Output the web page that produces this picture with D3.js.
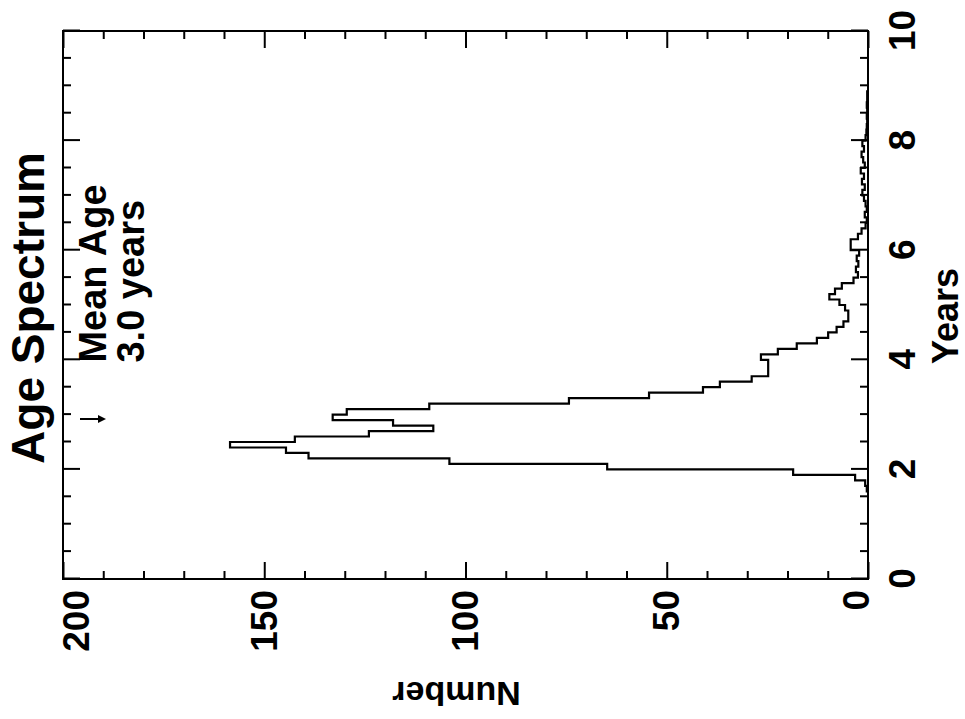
<!DOCTYPE html>
<html>
<head>
<meta charset="utf-8">
<title>Age Spectrum</title>
<script src="https://cdn.jsdelivr.net/npm/d3@7"></script>
<style>
  body { margin: 0; background: #fff; }
  svg { display: block; }
  text { font-family: "Liberation Sans", Arial, Helvetica, sans-serif; font-weight: bold; fill: #000; }
</style>
</head>
<body>
<div id="chart"></div>
<script>
// Age spectrum histogram, 0.1 year bins, first bin starts at 1.6 years
const binStart = 1.6;
const binWidth = 0.1;
const counts = [
  0.3, 0.7, 3.2, 18.6, 64.8, 104, 139, 144.6, 158.5, 142.4,   // 1.6 - 2.5
  124, 108, 118, 133, 129.5, 109, 74.3, 54.4, 41, 36.8,       // 2.6 - 3.5
  28.9, 24.8, 24.8, 24.8, 26.6, 22.4, 17.7, 12.7, 9.9, 7.8,   // 3.6 - 4.5
  6.1, 4.9, 4.9, 5.7, 7.1, 9.6, 8.2, 6.5, 3.6, 2.5,           // 4.6 - 5.5
  3.0, 2.4, 2.8, 2.2, 4.3, 4.3, 2.5, 1.6, 0.6, 0.3,           // 5.6 - 6.5
  0.8, 0.3, 0.6, 1.0, 1.4, 0.8, 1.5, 1.0, 1.8, 0.8,           // 6.6 - 7.5
  1.2, 1.6, 1.0, 1.4, 0.6, 0.4, 0.3, 0.2, 0.3, 0.2,           // 7.6 - 8.5
  0.3, 0.2, 0.2                                               // 8.6 - 8.8
];

const yearTicks = [0, 2, 4, 6, 8, 10];
const yearMinorTicks = [0.5, 1, 1.5, 2.5, 3, 3.5, 4.5, 5, 5.5, 6.5, 7, 7.5, 8.5, 9, 9.5];
const numberTicks = [0, 50, 100, 150, 200];
const numberMinorTicks = [10, 20, 30, 40, 60, 70, 80, 90, 110, 120, 130, 140, 160, 170, 180, 190];

const meanLabel = ["Mean Age", "3.0 years"];
const meanArrowYear = 2.92;

// the whole plot is drawn upright, then turned a quarter turn left
const W = 548, H = 805;

const svg = d3.select('#chart')
  .append('svg')
  .attr('width', 965)
  .attr('height', 719);

const g = svg.append('g')
  .attr('transform', 'translate(63,579) rotate(-90)');

const x = d3.scaleLinear().domain([0, 10]).range([0, W]);
const y = d3.scaleLinear().domain([0, 200]).range([H, 0]);

// histogram steps
const pts = [{t: binStart, c: 0}];
counts.forEach((c, i) => pts.push({t: binStart + i * binWidth, c: c}));
pts.push({t: binStart + counts.length * binWidth, c: 0});

const line = d3.line()
  .x(d => x(d.t))
  .y(d => y(d.c))
  .curve(d3.curveStepAfter);

g.append('path')
  .datum(pts)
  .attr('d', line)
  .attr('fill', 'none')
  .attr('stroke', '#000')
  .attr('stroke-width', 2.2);

// axes, ticks point inward on all four sides
function styleAxis(sel) {
  sel.select('.domain').remove();
  sel.selectAll('line').attr('stroke', '#000').attr('stroke-width', 2);
  sel.attr('font-family', null).attr('font-size', 37);
}

g.append('g').attr('transform', `translate(0,${H})`)
  .call(d3.axisBottom(x).tickValues(yearTicks).tickSize(-17).tickPadding(21).tickFormat(d3.format('d')))
  .call(styleAxis);
g.append('g').attr('transform', `translate(0,${H})`)
  .call(d3.axisBottom(x).tickValues(yearMinorTicks).tickSize(-8).tickFormat(''))
  .call(styleAxis);
g.append('g')
  .call(d3.axisTop(x).tickValues(yearTicks).tickSize(-17).tickFormat(''))
  .call(styleAxis);
g.append('g')
  .call(d3.axisTop(x).tickValues(yearMinorTicks).tickSize(-8).tickFormat(''))
  .call(styleAxis);

const leftAxis = g.append('g')
  .call(d3.axisLeft(y).tickValues(numberTicks).tickSize(-17).tickPadding(11))
  .call(styleAxis);
g.append('g')
  .call(d3.axisLeft(y).tickValues(numberMinorTicks).tickSize(-8).tickFormat(''))
  .call(styleAxis);
g.append('g').attr('transform', `translate(${W},0)`)
  .call(d3.axisRight(y).tickValues(numberTicks).tickSize(-17).tickFormat(''))
  .call(styleAxis);
g.append('g').attr('transform', `translate(${W},0)`)
  .call(d3.axisRight(y).tickValues(numberMinorTicks).tickSize(-8).tickFormat(''))
  .call(styleAxis);

// end labels are kept inside the frame
leftAxis.selectAll('.tick text')
  .attr('dy', d => d === 200 ? '0.69em' : d === 0 ? '0' : '0.32em');

// frame
g.append('rect')
  .attr('x', 0).attr('y', 0)
  .attr('width', W).attr('height', H)
  .attr('fill', 'none')
  .attr('stroke', '#000')
  .attr('stroke-width', 2);

// title and labels
g.append('text')
  .attr('x', W / 2 - 3).attr('y', -19)
  .attr('text-anchor', 'middle')
  .attr('font-size', 46)
  .text('Age Spectrum');

g.append('text')
  .attr('x', W / 2 - 11).attr('y', H + 90)
  .attr('text-anchor', 'middle')
  .attr('font-size', 36)
  .text('Years');

g.append('text')
  .attr('transform', `translate(-103,${H / 2 - 9}) rotate(-90)`)
  .attr('text-anchor', 'middle')
  .attr('font-size', 34)
  .text('Number');

// mean age note and arrow
g.selectAll('.mean')
  .data(meanLabel)
  .enter()
  .append('text')
  .attr('class', 'mean')
  .attr('x', x(3.95))
  .attr('y', (d, i) => 43 + i * 38)
  .attr('font-size', 38)
  .attr('font-weight', 'bold')
  .style('font-weight', 'bold')
  .text(d => d);

const ax = x(meanArrowYear);
g.append('line')
  .attr('x1', ax).attr('x2', ax)
  .attr('y1', 17).attr('y2', 37)
  .attr('stroke', '#000')
  .attr('stroke-width', 2);
g.append('path')
  .attr('d', `M${ax - 4},35 L${ax + 4},35 L${ax},43 Z`)
  .attr('fill', '#000');
</script>
</body>
</html>
